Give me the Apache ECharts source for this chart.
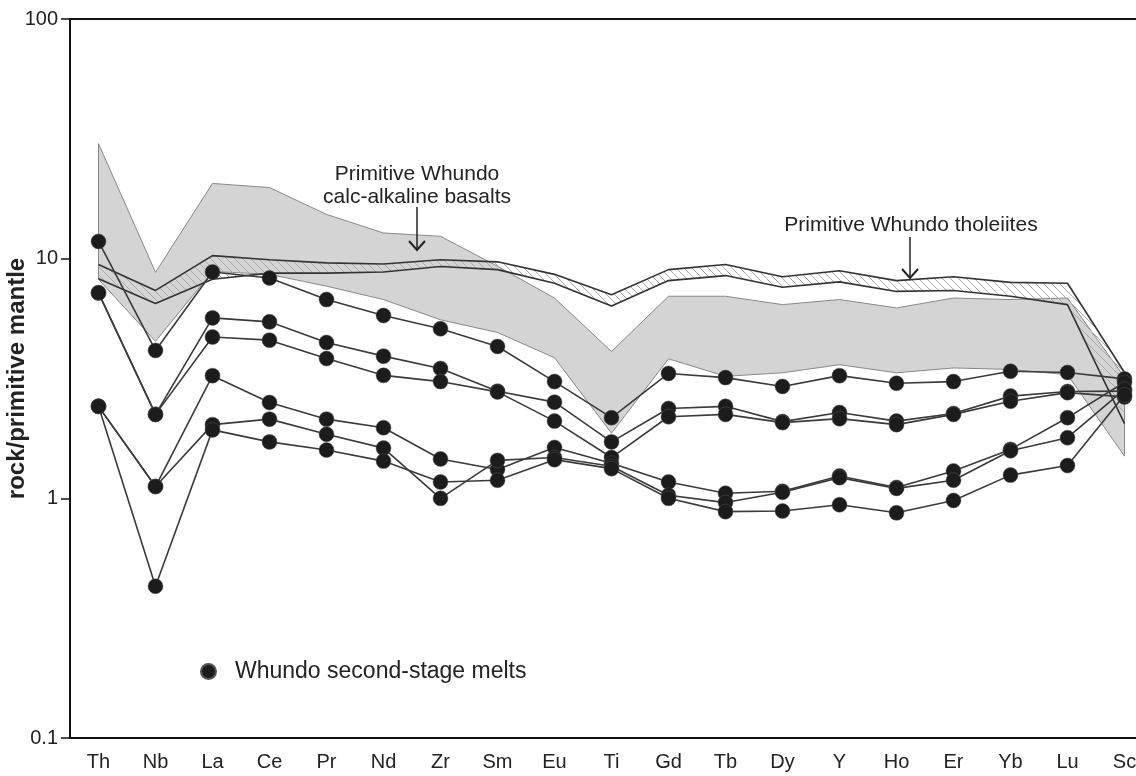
<!DOCTYPE html>
<html>
<head>
<meta charset="utf-8">
<style>
html,body{margin:0;padding:0;background:#fff;}
#chart{width:1136px;height:776px;}
</style>
<script src="https://cdn.jsdelivr.net/npm/echarts@6/dist/echarts.min.js"></script>
</head>
<body>
<div id="chart"></div>
<script>
// ---- data ----
var elements = ['Th','Nb','La','Ce','Pr','Nd','Zr','Sm','Eu','Ti','Gd','Tb','Dy','Y','Ho','Er','Yb','Lu','Sc'];
var yTicks = [0.1, 1, 10, 100];

// Primitive Whundo calc-alkaline basalts (grey field)
var calcUpper = [30.2, 8.77, 20.6, 19.8, 15.3, 12.8, 12.4, 9.3, 6.85, 4.1, 6.97, 6.97, 6.43, 6.75, 6.23, 6.85, 6.75, 6.85, 3.2];
var calcLower = [8.2, 4.52, 8.85, 8.6, 7.68, 6.75, 5.56, 4.92, 3.86, 1.87, 3.82, 3.23, 3.34, 3.61, 3.34, 3.5, 3.45, 3.28, 1.5];

// Primitive Whundo tholeiites (hatched field)
var tholUpper = [9.45, 7.37, 10.3, 9.9, 9.6, 9.5, 9.9, 9.7, 8.6, 7.07, 9.0, 9.45, 8.4, 8.9, 8.1, 8.4, 7.96, 7.9, 3.35];
var tholLower = [8.24, 6.5, 8.2, 8.7, 8.7, 8.8, 9.28, 9.0, 7.9, 6.35, 8.1, 8.5, 7.6, 8.0, 7.3, 7.36, 6.97, 6.43, 2.05];

// Whundo second-stage melts
var meltA = [11.8, 4.14, 8.8, 8.3, 6.75, 5.79, 5.1, 4.3, 3.07, 2.17, 3.32, 3.19, 2.93, 3.25, 3.02, 3.07, 3.39, 3.35, 3.15];
var meltB = [7.2, 2.24, 5.66, 5.45, 4.47, 3.92, 3.48, 2.8, 2.52, 1.72, 2.37, 2.42, 2.09, 2.28, 2.1, 2.26, 2.67, 2.79, 2.8];
var meltC = [7.2, 2.24, 4.71, 4.57, 3.83, 3.26, 3.07, 2.78, 2.1, 1.48, 2.19, 2.24, 2.07, 2.15, 2.03, 2.24, 2.54, 2.76, 2.65];
var meltD = [2.42, 1.12, 3.25, 2.51, 2.14, 1.97, 1.46, 1.32, 1.63, 1.4, 1.17, 1.05, 1.07, 1.24, 1.11, 1.3, 1.6, 2.17, 3.05];
var meltE = [2.42, 1.12, 2.03, 2.14, 1.85, 1.62, 1.0, 1.44, 1.48, 1.36, 1.03, 0.96, 1.06, 1.22, 1.1, 1.19, 1.58, 1.79, 2.85];
var meltF = [2.42, 0.43, 1.93, 1.72, 1.59, 1.43, 1.17, 1.19, 1.45, 1.33, 1.0, 0.88, 0.885, 0.94, 0.87, 0.98, 1.25, 1.37, 2.7];
var melts = [meltA, meltB, meltC, meltD, meltE, meltF];

var meltName = 'Whundo second-stage melts';
var labelCalc = 'Primitive Whundo\ncalc-alkaline basalts';
var labelThol = 'Primitive Whundo tholeiites';

// ---- hatch pattern ----
var hatch = document.createElement('canvas');
hatch.width = 8; hatch.height = 8;
(function(){
  var c = hatch.getContext('2d');
  c.strokeStyle = '#aaaaaa';
  c.lineWidth = 1;
  [-8, 0, 8].forEach(function(k){
    c.beginPath(); c.moveTo(k, 0); c.lineTo(k + 8, 8); c.stroke();
  });
})();

function bandSeries(upper, lower, style, z) {
  return {
    type: 'custom',
    silent: true,
    z: z,
    data: [[0, 1]],
    renderItem: function (params, api) {
      var pts = [];
      for (var i = 0; i < upper.length; i++) pts.push(api.coord([i, upper[i]]));
      for (var j = lower.length - 1; j >= 0; j--) pts.push(api.coord([j, lower[j]]));
      return { type: 'polygon', shape: { points: pts }, style: style };
    }
  };
}

var FONT = '"Liberation Sans", Arial, Helvetica, sans-serif';

var series = [];
series.push(bandSeries(calcUpper, calcLower, { fill: '#d4d4d4', stroke: '#888888', lineWidth: 1 }, 1));
series.push(bandSeries(tholUpper, tholLower, { fill: { image: hatch, repeat: 'repeat' }, stroke: null }, 2));
[tholUpper, tholLower].forEach(function (arr) {
  series.push({
    type: 'line', data: arr, z: 3, silent: true,
    symbol: 'none',
    lineStyle: { color: '#333333', width: 1.6 }
  });
});
melts.forEach(function (arr) {
  series.push({
    type: 'line', name: meltName, data: arr, z: 5,
    symbol: 'circle', symbolSize: 15,
    itemStyle: { color: '#1c1c1c', borderColor: '#555', borderWidth: 0.5 },
    lineStyle: { color: '#3a3a3a', width: 1.6 },
    emphasis: { disabled: true }
  });
});

var chart = echarts.init(document.getElementById('chart'), null, { renderer: 'canvas' });
chart.setOption({
  animation: false,
  backgroundColor: '#fff',
  textStyle: { fontFamily: FONT },
  grid: {
    left: 70, top: 19, width: 1083, height: 719,
    outerBoundsMode: 'none', containLabel: false,
    show: true, borderColor: '#111', borderWidth: 2, backgroundColor: 'transparent'
  },
  legend: {
    data: [meltName], left: 200, top: 660, padding: 0, icon: 'circle',
    itemWidth: 15, itemHeight: 15, selectedMode: false,
    itemStyle: { color: '#1c1c1c' },
    textStyle: { fontSize: 23, color: '#222', fontFamily: FONT, padding: [0, 0, 0, 14] }
  },
  xAxis: {
    type: 'category', data: elements, boundaryGap: true,
    axisLine: { lineStyle: { color: '#111', width: 2 } },
    axisTick: { alignWithLabel: true, length: 9, lineStyle: { color: '#111', width: 1.5 } },
    axisLabel: { color: '#222', fontSize: 20, margin: 14, fontFamily: FONT },
    splitLine: { show: false }
  },
  yAxis: {
    type: 'log', logBase: 10, min: 0.1, max: 100,
    name: 'rock/primitive mantle', nameLocation: 'middle', nameGap: 41, nameMoveOverlap: false,
    nameTextStyle: { fontSize: 24, fontWeight: 'bold', color: '#222', fontFamily: FONT },
    axisLine: { show: true, lineStyle: { color: '#111', width: 2 } },
    axisTick: { show: true, length: 9, lineStyle: { color: '#111', width: 1.5 } },
    minorTick: { show: false },
    splitLine: { show: false },
    axisLabel: {
      color: '#222', fontSize: 20, margin: 12, fontFamily: FONT,
      formatter: function (v) {
        for (var i = 0; i < yTicks.length; i++) if (Math.abs(v - yTicks[i]) < 1e-9 * yTicks[i] + 1e-12) return String(yTicks[i]);
        return String(v);
      }
    }
  },
  graphic: [
    { type: 'text', z: 100, x: 417, y: 186, style: { text: labelCalc, font: '21px ' + FONT, fill: '#222', textAlign: 'center', textVerticalAlign: 'middle', lineHeight: 23 } },
    { type: 'polyline', z: 100, shape: { points: [[417, 207], [417, 250]] }, style: { stroke: '#222', lineWidth: 1.5 } },
    { type: 'polyline', z: 100, shape: { points: [[409, 241], [417, 250], [425, 241]] }, style: { stroke: '#222', lineWidth: 2, fill: null } },
    { type: 'text', z: 100, x: 911, y: 225, style: { text: labelThol, font: '21px ' + FONT, fill: '#222', textAlign: 'center', textVerticalAlign: 'middle' } },
    { type: 'polyline', z: 100, shape: { points: [[910, 237], [910, 278]] }, style: { stroke: '#222', lineWidth: 1.5 } },
    { type: 'polyline', z: 100, shape: { points: [[902, 269], [910, 278], [918, 269]] }, style: { stroke: '#222', lineWidth: 2, fill: null } }
  ],
  series: series
});
</script>
</body>
</html>
